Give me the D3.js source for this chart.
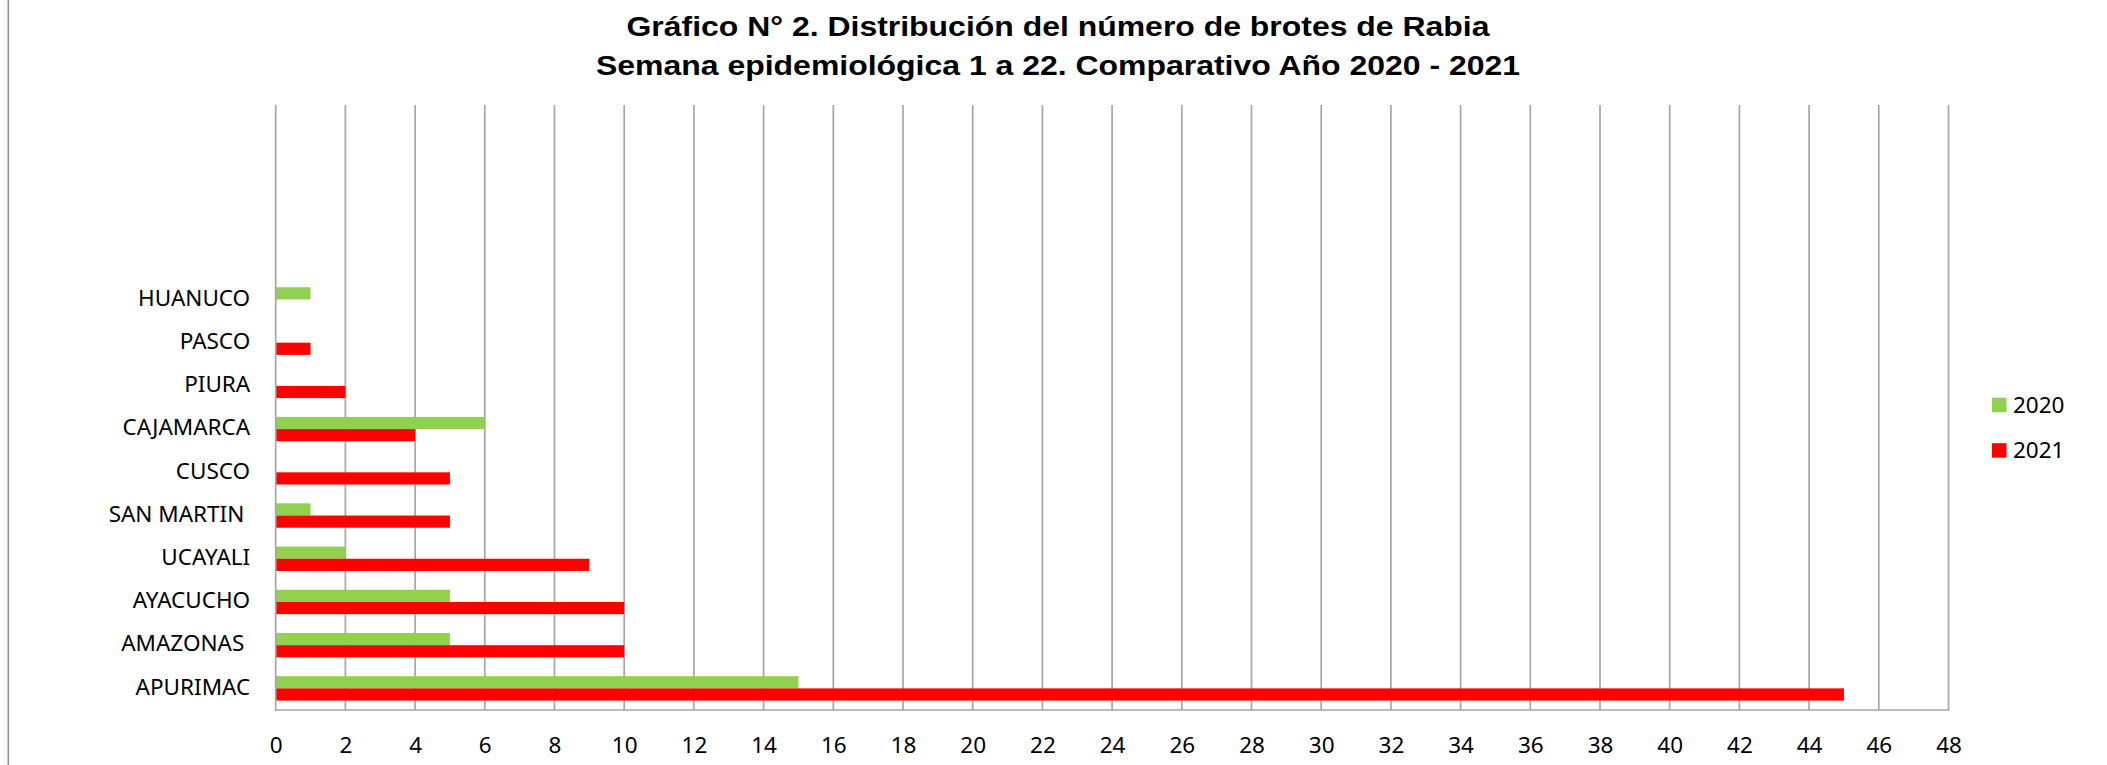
<!DOCTYPE html>
<html>
<head>
<meta charset="utf-8">
<script src="https://cdn.jsdelivr.net/npm/d3@7"></script>
<style>
    body { margin: 0; background: #fff; }
    svg text { white-space: pre; }
</style>
</head>
<body>
<div class="chart"></div>
<script>
// data (bottom to top as Excel draws it)
const categories = ["APURIMAC", "AMAZONAS ", "AYACUCHO", "UCAYALI", "SAN MARTIN ", "CUSCO", "CAJAMARCA", "PIURA", "PASCO", "HUANUCO"];
const series = ["2020", "2021"];
const values2020 = [15, 5, 5, 2, 1, 0, 6, 0, 0, 1];
const values2021 = [45, 10, 10, 9, 5, 5, 4, 2, 1, 0];
const xTicks = d3.range(0, 49, 2);
const titleLines = [
    "Gráfico N° 2. Distribución del número de brotes de Rabia",
    "Semana epidemiológica 1 a 22. Comparativo Año 2020 - 2021"
];
const colors = { "2020": "#92D050", "2021": "#FF0000" };

const render_chart = () => {
    const width = 2107, height = 765;
    const font = "'Noto Sans', 'Open Sans', sans-serif";

    // the source chart keeps 4 empty category slots above HUANUCO
    const emptySlots = 4;
    const slots = d3.range(categories.length + emptySlots);

    const plot = { left: 275.7, right: 1948.5, top: 105, bottom: 710 };

    let svg = d3.select(".chart").append("svg")
        .attr("width", width)
        .attr("height", height)
        .attr("viewBox", [0, 0, width, height]);

    // left border of the (cropped) chart frame
    svg.append("line")
        .attr("x1", 8.3).attr("x2", 8.3)
        .attr("y1", 0).attr("y2", height)
        .attr("stroke", "#8c8c8c")
        .attr("stroke-width", 1.5);

    // title
    const titleWidths = [863, 924];
    svg.append("g")
        .selectAll("text")
        .data(titleLines)
        .join("text")
            .attr("x", 1058)
            .attr("y", (d, i) => 36 + i * 38.5)
            .attr("text-anchor", "middle")
            .attr("font-family", "'Liberation Sans', Arial, sans-serif")
            .attr("font-weight", "bold")
            .attr("font-size", 27)
            .attr("textLength", (d, i) => titleWidths[i])
            .attr("lengthAdjust", "spacingAndGlyphs")
            .attr("fill", "#000")
            .text(d => d);

    // scales
    const x = d3.scaleLinear()
        .domain([0, 48])
        .range([plot.left, plot.right]);

    // slot 0 at the bottom
    const y = d3.scaleBand()
        .domain(slots)
        .range([plot.bottom, plot.top])
        .padding(0);

    const ySub = d3.scaleBand()
        .domain(series)
        .range([0, y.bandwidth()])
        .paddingInner(0)
        .paddingOuter(0.77);

    // vertical gridlines
    svg.append("g")
        .selectAll("line")
        .data(xTicks.slice(1))
        .join("line")
            .attr("x1", d => x(d)).attr("x2", d => x(d))
            .attr("y1", plot.top).attr("y2", plot.bottom)
            .attr("stroke", "#a6a6a6")
            .attr("stroke-width", 1.7);

    // bars
    const rows = categories.map((c, i) => ({
        slot: i,
        vals: [
            { key: "2020", value: values2020[i] },
            { key: "2021", value: values2021[i] }
        ]
    }));

    svg.append("g")
        .selectAll("g")
        .data(rows)
        .join("g")
            .attr("transform", d => `translate(0,${y(d.slot)})`)
        .selectAll("rect")
        .data(d => d.vals.filter(v => v.value > 0))
        .join("rect")
            .attr("x", x(0))
            .attr("y", d => ySub(d.key))
            .attr("width", d => x(d.value) - x(0))
            .attr("height", ySub.bandwidth())
            .attr("fill", d => colors[d.key]);

    // axis lines
    svg.append("line")
        .attr("x1", plot.left).attr("x2", plot.left)
        .attr("y1", plot.top).attr("y2", plot.bottom + 0.8)
        .attr("stroke", "#a6a6a6")
        .attr("stroke-width", 1.7);
    svg.append("line")
        .attr("x1", plot.left - 0.8).attr("x2", plot.right + 0.8)
        .attr("y1", plot.bottom).attr("y2", plot.bottom)
        .attr("stroke", "#a6a6a6")
        .attr("stroke-width", 1.7);

    // x axis labels
    const xAxis = svg.append("g")
        .attr("transform", `translate(0,${plot.bottom})`)
        .call(d3.axisBottom(x).tickValues(xTicks).tickSize(0).tickPadding(27));
    xAxis.select(".domain").remove();
    xAxis.selectAll("text")
        .attr("font-family", font)
        .attr("font-size", 22.5)
        .attr("fill", "#000");

    // y axis labels
    const yAxis = svg.append("g")
        .attr("transform", `translate(${plot.left},0)`)
        .call(d3.axisLeft(y)
            .tickValues(d3.range(categories.length))
            .tickFormat(i => categories[i])
            .tickSize(0)
            .tickPadding(25.5));
    yAxis.select(".domain").remove();
    yAxis.selectAll("text")
        .attr("font-family", font)
        .attr("font-size", 22.5)
        .attr("dy", "0.28em")
        .attr("fill", "#000");

    // legend
    const legend = svg.append("g")
        .selectAll("g")
        .data(series)
        .join("g")
            .attr("transform", (d, i) => `translate(1992,${405 + i * 45.5})`);
    legend.append("rect")
        .attr("x", 0).attr("y", -7.3)
        .attr("width", 14.5).attr("height", 14.5)
        .attr("fill", d => colors[d]);
    legend.append("text")
        .attr("x", 21)
        .attr("dy", "0.34em")
        .attr("font-family", font)
        .attr("font-size", 22.5)
        .attr("fill", "#000")
        .text(d => d);
};

render_chart();
</script>
</body>
</html>
